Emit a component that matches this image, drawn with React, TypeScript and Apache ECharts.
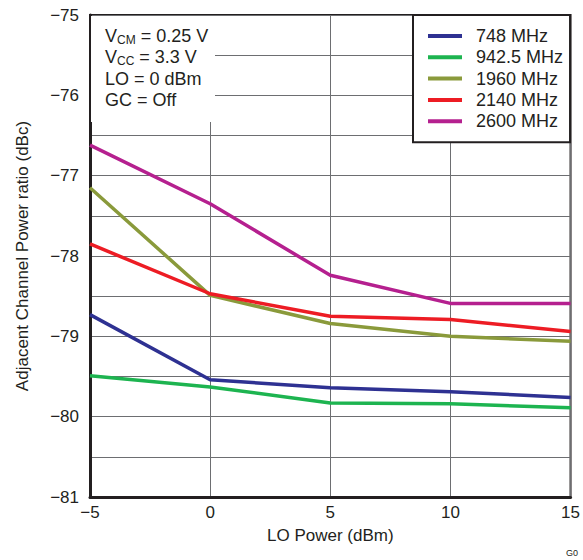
import React, { useEffect, useRef } from "react";
import * as echarts from "echarts";

const loPower = [-5, 0, 5, 10, 15];
const seriesNames = ["748 MHz", "942.5 MHz", "1960 MHz", "2140 MHz", "2600 MHz"];
const s748 = [-78.73, -79.54, -79.64, -79.69, -79.76];
const s942 = [-79.49, -79.63, -79.83, -79.84, -79.89];
const s1960 = [-77.15, -78.49, -78.84, -79.0, -79.06];
const s2140 = [-77.85, -78.47, -78.75, -78.79, -78.94];
const s2600 = [-76.62, -77.35, -78.24, -78.59, -78.59];
const colors = ["#2e3192", "#1db450", "#8a9a3b", "#ed1c24", "#b5208f"];
const annotationLines = [
  "{m|V}{s|CM}{m| = 0.25 V}",
  "{m|V}{s|CC}{m| = 3.3 V}",
  "{m|LO = 0 dBm}",
  "{m|GC = Off}",
];

const FONT = "'Liberation Sans', Arial, sans-serif";
const INK = "#231f20";

export default function App() {
  const ref = useRef<HTMLDivElement>(null);
  useEffect(() => {
    if (!ref.current) return;
    const chart = echarts.init(ref.current, undefined, { renderer: "svg" });
    const allData = [s748, s942, s1960, s2140, s2600];
    const minus = (v: number) => String(v).replace("-", "\u2212");
    chart.setOption({
      animation: false,
      textStyle: { fontFamily: FONT, color: INK },
      grid: {
        left: 90,
        top: 15,
        width: 481,
        height: 482,
        show: true,
        borderColor: INK,
        borderWidth: 2,
        backgroundColor: "transparent",
      },
      xAxis: {
        type: "value",
        min: -5,
        max: 15,
        interval: 5,
        name: "LO Power (dBm)",
        nameLocation: "middle",
        nameGap: 30,
        nameTextStyle: { fontSize: 17, color: INK, fontFamily: FONT },
        axisLine: { show: true, onZero: false, lineStyle: { color: INK, width: 3 } },
        axisTick: { show: false },
        axisLabel: { fontSize: 17, color: INK, fontFamily: FONT, margin: 7, formatter: minus },
        splitLine: { show: true, lineStyle: { color: "#6d6e71", width: 1 } },
      },
      yAxis: {
        type: "value",
        min: -81,
        max: -75,
        interval: 0.5,
        name: "Adjacent Channel Power ratio (dBc)",
        nameLocation: "middle",
        nameGap: 59,
        nameTextStyle: { fontSize: 17, color: INK, fontFamily: FONT },
        axisLine: { show: true, onZero: false, lineStyle: { color: INK, width: 3 } },
        axisTick: { show: false },
        axisLabel: {
          fontSize: 17,
          color: INK,
          fontFamily: FONT,
          margin: 11,
          formatter: (v: number) => (Number.isInteger(v) ? minus(v) : ""),
        },
        splitLine: { show: true, lineStyle: { color: "#6d6e71", width: 1 } },
      },
      legend: {
        show: true,
        orient: "vertical",
        left: 413,
        top: 15,
        padding: [12, 7, 12, 15],
        itemWidth: 34,
        itemHeight: 4,
        itemGap: 3.3,
        icon: "rect",
        backgroundColor: "#ffffff",
        borderColor: INK,
        borderWidth: 2,
        z: 10,
        textStyle: { fontSize: 18, color: INK, fontFamily: FONT, lineHeight: 18, padding: [0, 0, 0, 9] },
        data: seriesNames,
      },
      graphic: [
        {
          type: "rect",
          z: 5,
          shape: { x: 91, y: 16, width: 124, height: 106 },
          style: { fill: "#ffffff" },
        },
        ...annotationLines.map((t, i) => ({
          type: "text",
          z: 6,
          x: 105,
          y: 36 + i * 21.3,
          style: {
            text: t,
            fill: INK,
            font: `18px ${FONT}`,
            verticalAlign: "middle",
            rich: {
              m: { fontSize: 18, fontFamily: FONT, fill: INK, color: INK },
              s: { fontSize: 12, fontFamily: FONT, fill: INK, color: INK, verticalAlign: "bottom", padding: [7, 0, 0, 0] },
            },
          },
        })),
        {
          type: "text",
          x: 566,
          y: 553,
          style: { text: "G0", fill: INK, font: `9px ${FONT}`, verticalAlign: "middle" },
        },
      ],
      series: seriesNames.map((name, i) => ({
        name,
        type: "line",
        data: loPower.map((x, j) => [x, allData[i][j]]),
        showSymbol: false,
        symbol: "none",
        lineStyle: { color: colors[i], width: 3.5 },
        itemStyle: { color: colors[i] },
        z: 3,
      })),
    });
    return () => chart.dispose();
  }, []);
  return (
    <div
      ref={ref}
      style={{ position: "absolute", left: 0, top: 0, width: 583, height: 560, background: "#fff" }}
    />
  );
}
